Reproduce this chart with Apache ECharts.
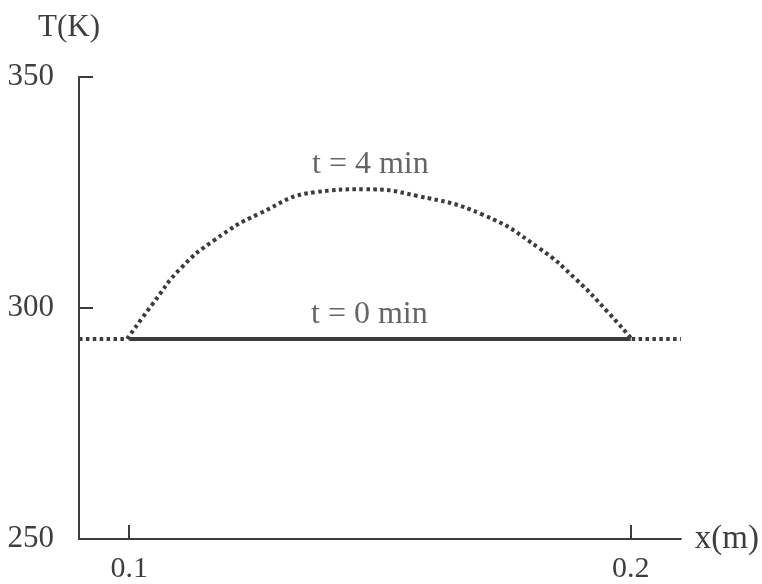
<!DOCTYPE html>
<html>
<head>
<meta charset="utf-8">
<script src="https://cdn.jsdelivr.net/npm/echarts@6/dist/echarts.min.js"></script>
<style>
  html, body { margin: 0; padding: 0; background: #fff; }
  #chart { width: 762px; height: 584px; }
</style>
</head>
<body>
<div id="chart"></div>
<script>
// Temperature profile of the rod at t = 4 min (x in m, T in K)
const xHeated = [0.0996, 0.1047, 0.1103, 0.1170, 0.1259, 0.1373, 0.1470,
                 0.1573, 0.1705, 0.1818, 0.1892, 0.1952, 0.2002];
const tHeated = [293.3, 300.9, 308.6, 314.7, 320.4, 325.1, 325.7,
                 324.3, 320.2, 312.9, 306.1, 299.4, 293.3];

// Initial profile at t = 0 min (uniform over the rod)
const xInitial = [0.1, 0.2];
const tInitial = [293.3, 293.3];

// Surroundings outside the rod, same at both times
const xLeftOutside = [0.09, 0.0996];
const xRightOutside = [0.2002, 0.21];
const tOutside = [293.3, 293.3];

// Axis ticks and curve annotations
const xTicks = [0.1, 0.2];
const yTicks = [250, 300, 350];
const noteText = ['t = 4 min', 't = 0 min'];
const noteX = [0.1481, 0.1479];
const noteY = [331.1, 298.6];

const zip = (xs, ys) => xs.map((x, i) => [x, ys[i]]);

const ink = '#3c3c3c';
const textInk = '#3e3e3e';
const font = 'Liberation Serif';
const dotted = { color: ink, width: 4, type: [3.5, 3.4], cap: 'butt' };

const chart = echarts.init(document.getElementById('chart'));
chart.setOption({
  animation: false,
  backgroundColor: '#ffffff',
  textStyle: { fontFamily: font },
  grid: { left: 79, right: 80, top: 77, bottom: 41, containLabel: false },
  xAxis: {
    type: 'value',
    min: 0.09,
    max: 0.21,
    name: 'x(m)',
    nameLocation: 'end',
    nameGap: 14,
    nameTextStyle: { color: textInk, fontSize: 33, fontFamily: font, verticalAlign: 'middle', align: 'left' },
    axisLine: { show: true, onZero: false, lineStyle: { color: ink, width: 2 } },
    axisTick: { show: true, inside: true, length: 14, customValues: xTicks, lineStyle: { color: ink, width: 2 } },
    axisLabel: { show: true, customValues: xTicks, margin: 15, color: textInk, fontSize: 30, fontFamily: font,
                 formatter: v => v.toFixed(1) },
    splitLine: { show: false }
  },
  yAxis: {
    type: 'value',
    min: 250,
    max: 350,
    interval: 50,
    name: 'T(K)',
    nameLocation: 'end',
    nameGap: 34,
    nameTextStyle: { color: textInk, fontSize: 31, fontFamily: font, align: 'center', padding: [0, 20, 0, 0] },
    axisLine: { show: true, onZero: false, lineStyle: { color: ink, width: 2 } },
    axisTick: { show: true, inside: true, length: 14, customValues: yTicks, lineStyle: { color: ink, width: 2 } },
    axisLabel: { show: true, customValues: yTicks, margin: 25, color: textInk, fontSize: 31, fontFamily: font },
    splitLine: { show: false }
  },
  series: [
    {
      name: 't = 4 min',
      type: 'line',
      data: zip(xHeated, tHeated),
      smooth: 0.5,
      showSymbol: false,
      lineStyle: dotted,
      z: 3
    },
    {
      name: 't = 0 min',
      type: 'line',
      data: zip(xInitial, tInitial),
      showSymbol: false,
      lineStyle: { color: ink, width: 4 },
      z: 4
    },
    {
      name: 'outside left',
      type: 'line',
      data: zip(xLeftOutside, tOutside),
      showSymbol: false,
      lineStyle: dotted
    },
    {
      name: 'outside right',
      type: 'line',
      data: zip(xRightOutside, tOutside),
      showSymbol: false,
      lineStyle: dotted
    },
    {
      name: 'notes',
      type: 'scatter',
      symbolSize: 0,
      data: noteText.map((t, i) => ({ value: [noteX[i], noteY[i]], name: t })),
      label: {
        show: true,
        position: 'inside',
        formatter: p => p.name,
        color: textInk,
        fontSize: 32,
        fontFamily: font
      },
      silent: true
    }
  ]
});
</script>
</body>
</html>
